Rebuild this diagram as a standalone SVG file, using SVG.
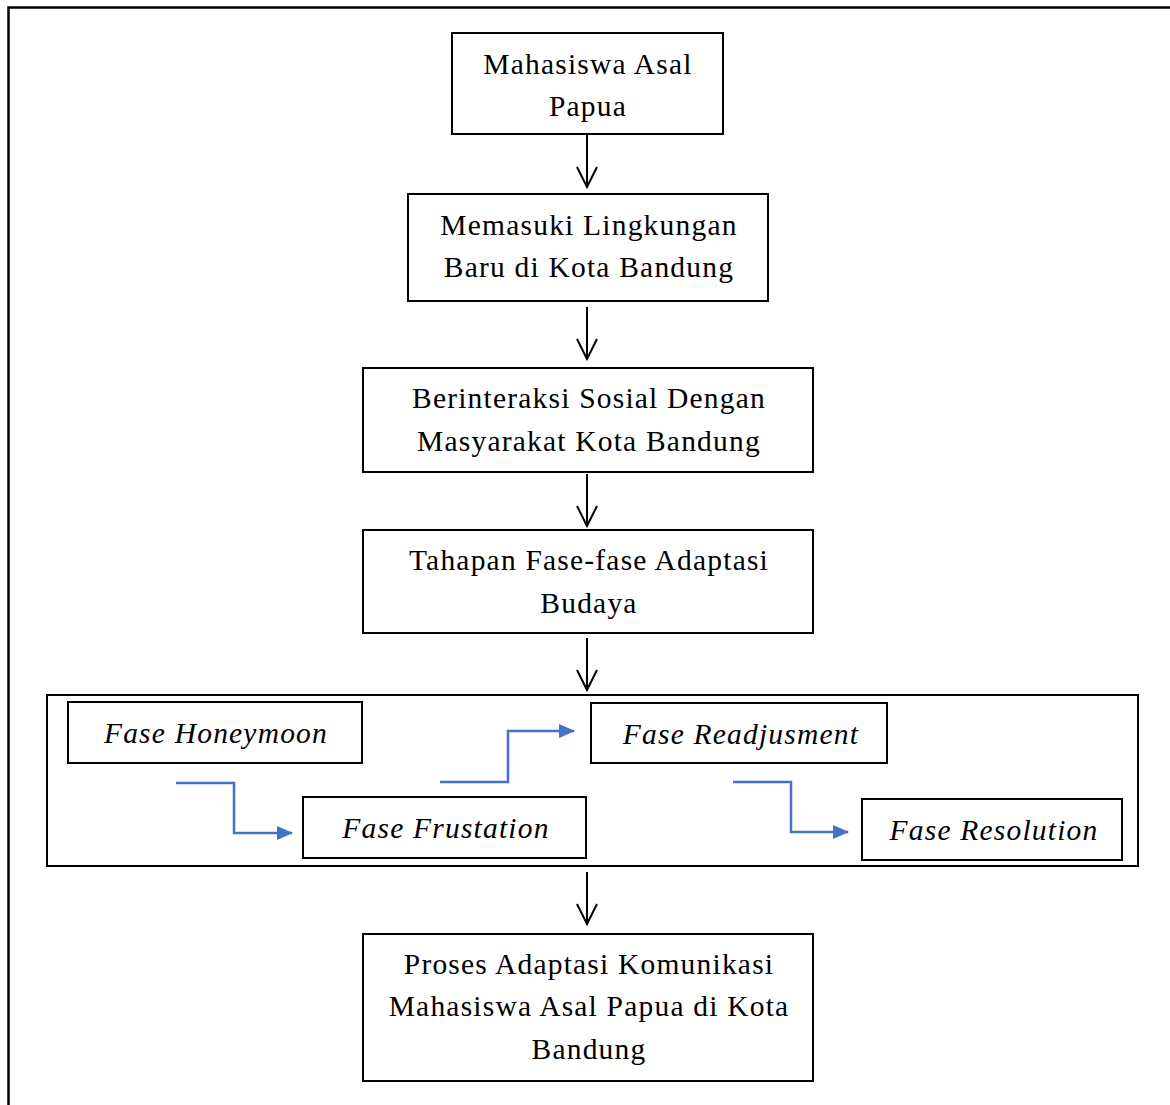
<svg xmlns="http://www.w3.org/2000/svg" width="1170" height="1105" viewBox="0 0 1170 1105">
<defs>
<style>
.box{fill:#fff;stroke:#000;stroke-width:2}
.t{font-family:"Liberation Serif","Times New Roman",serif;font-size:29.5px;letter-spacing:1.2px;fill:#000;text-anchor:middle}
.i{font-style:italic}
.arr{fill:none;stroke:#000;stroke-width:2}
.blue{fill:none;stroke:#4472C4;stroke-width:2.5}
</style>
<marker id="bh" markerWidth="16" markerHeight="14" refX="15" refY="7" orient="auto" markerUnits="userSpaceOnUse" viewBox="0 0 16 14">
<path d="M0,0 L16,7 L0,14 Z" fill="#4472C4"/>
</marker>
</defs>
<rect width="1170" height="1105" fill="#fff"/>
<path d="M8.5,1105 V7.5 H1170" fill="none" stroke="#000" stroke-width="2.5"/>
<g id="n1"><rect class="box" x="452" y="33" width="271" height="101"/><text class="t" x="588" y="74">Mahasiswa Asal</text><text class="t" x="588" y="116">Papua</text></g>
<g id="n2"><rect class="box" x="408" y="194" width="360" height="107"/><text class="t" x="589" y="235">Memasuki Lingkungan</text><text class="t" x="589" y="277">Baru di Kota Bandung</text></g>
<g id="n3"><rect class="box" x="363" y="368" width="450" height="104"/><text class="t" x="589" y="408">Berinteraksi Sosial Dengan</text><text class="t" x="589" y="451">Masyarakat Kota Bandung</text></g>
<g id="n4"><rect class="box" x="363" y="530" width="450" height="103"/><text class="t" x="589" y="570">Tahapan Fase-fase Adaptasi</text><text class="t" x="589" y="613">Budaya</text></g>
<g id="group"><rect class="box" x="47" y="695" width="1091" height="171"/></g>
<g id="n5"><rect class="box" x="68" y="702" width="294" height="61"/><text class="t i" x="216" y="743">Fase Honeymoon</text></g>
<g id="n6"><rect class="box" x="303" y="797" width="283" height="61"/><text class="t i" x="446" y="838">Fase Frustation</text></g>
<g id="n7"><rect class="box" x="591" y="703" width="296" height="60"/><text class="t i" x="741" y="744">Fase Readjusment</text></g>
<g id="n8"><rect class="box" x="862" y="799" width="260" height="61"/><text class="t i" x="994" y="840">Fase Resolution</text></g>
<g id="n9"><rect class="box" x="363" y="934" width="450" height="147"/><text class="t" x="589" y="974">Proses Adaptasi Komunikasi</text><text class="t" x="589" y="1016">Mahasiswa Asal Papua di Kota</text><text class="t" x="589" y="1059">Bandung</text></g>
<g id="connectors">
<path class="arr" d="M587,135 V187 M577,167 L587,187 L597,167"/>
<path class="arr" d="M587,307 V359 M577,339 L587,359 L597,339"/>
<path class="arr" d="M587,474 V526 M577,506 L587,526 L597,506"/>
<path class="arr" d="M587,638 V690 M577,670 L587,690 L597,670"/>
<path class="arr" d="M587,872 V924 M577,904 L587,924 L597,904"/>
<path class="blue" d="M176,783 H234 V833 H292" marker-end="url(#bh)"/>
<path class="blue" d="M440,782 H508 V731 H574" marker-end="url(#bh)"/>
<path class="blue" d="M733,782 H791 V832 H848" marker-end="url(#bh)"/>
</g>
</svg>
